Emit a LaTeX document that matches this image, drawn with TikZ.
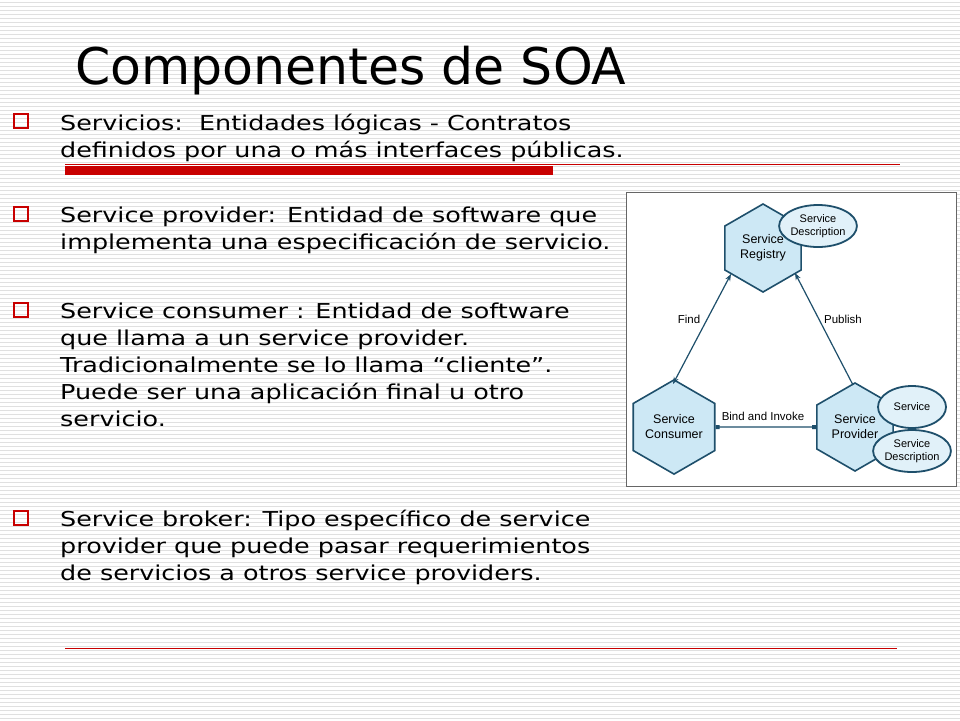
\documentclass[tikz,border=0pt]{standalone}
\usepackage{fontspec}
\setmainfont{DejaVu Sans}
\newfontfamily\bodyfont[FakeStretch=1.24]{DejaVu Sans}
\newfontfamily\diafont{Liberation Sans}
\usetikzlibrary{shapes.geometric,arrows.meta}
\definecolor{hexfill}{HTML}{CDE8F5}
\definecolor{hexline}{HTML}{1E4F6B}
\definecolor{barred}{HTML}{C80000}
\tikzset{
 hex/.style={regular polygon,regular polygon sides=6,shape border rotate=30,minimum size=88pt,inner sep=0pt,draw=hexline,line width=1.6pt,fill=hexfill,font=\diafont\fontsize{12.5}{15}\selectfont,align=center},
 ell/.style={ellipse,draw=hexline,line width=1.8pt,fill=hexfill!60,minimum width=68pt,minimum height=42pt,inner sep=0pt,font=\diafont\fontsize{11}{12.5}\selectfont,align=center},
 conn/.style={draw=hexline,line width=1.2pt},
 lbl/.style={font=\diafont\fontsize{11.5}{13}\selectfont},
 body/.style={anchor=base west,inner sep=0pt,font=\bodyfont\fontsize{20.5}{24}\selectfont},
 bul/.style={draw=barred,line width=2.6pt,minimum size=14pt,inner sep=0pt}
}
\begin{document}
\begin{tikzpicture}[x=1pt,y=-1pt]
\useasboundingbox (0,0) rectangle (960,720);
\fill[white] (0,0) rectangle (960,720);
\foreach \y in {2,6,...,718} \draw[black!12,line width=0.6pt] (0,\y) -- (960,\y);
\node[anchor=base west,inner sep=0pt,font=\fontsize{50.5}{60}\selectfont] (title) at (75,84) {Componentes de SOA};
\draw[barred,line width=0.8pt] (65,164) -- (900,164);
\fill[barred] (65,166) rectangle (553,175);
\draw[barred,line width=0.8pt] (65,648) -- (897,648);
% bullets
\foreach \y/\n in {121/b1,214/b2,310/b3,518/b4} \node[bul] (\n) at (21,\y) {};
\node[body] (t1) at (60,130) {Servicios:\ \ Entidades lógicas - Contratos};
\node[body] (t2) at (60,157) {definidos por una o más interfaces públicas.};
\node[body] (t3) at (60,222) {Service provider: Entidad de software que};
\node[body] (t4) at (60,249) {implementa una especificación de servicio.};
\node[body] (t5) at (60,318) {Service consumer : Entidad de software};
\node[body] (t6) at (60,345) {que llama a un service provider.};
\node[body] (t7) at (60,372) {Tradicionalmente se lo llama “cliente”.};
\node[body] (t8) at (60,399) {Puede ser una aplicación final u otro};
\node[body] (t9) at (60,426) {servicio.};
\node[body] (t10) at (60,526) {Service broker: Tipo específico de service};
\node[body] (t11) at (60,553) {provider que puede pasar requerimientos};
\node[body] (t12) at (60,580) {de servicios a otros service providers.};
% diagram
\draw[black!60,fill=white,line width=1pt] (626,192) rectangle (956,486);
\node[hex] (reg) at (763,248) {Service\\Registry};
\node[hex] (con) at (674,427) {Service\\Consumer};
\node[hex] (pro) at (855,427) {Service\\Provider};
\node[ell] (rd) at (818,226) {Service\\Description};
\node[ell] (ps) at (912,407) {Service};
\node[ell] (pd) at (912,451) {Service\\Description};
\coordinate (fa) at (731,274);
\coordinate (fb) at (673,384);
\coordinate (pa) at (853,385);
\coordinate (pb) at (795,273);
\draw[conn,{Stealth[length=7pt]}-{Stealth[length=7pt]}] (fa) -- (fb);
\draw[conn,-{Stealth[length=7pt]}] (pa) -- (pb);
\draw[conn,{Square[length=4pt]}-{Square[length=4pt]}] (con.east) -- (pro.west);
\node[lbl] (lf) at (689,319) {Find};
\node[lbl] (lp) at (843,319) {Publish};
\node[lbl] (lb) at (763,416) {Bind and Invoke};
\end{tikzpicture}
\end{document}
